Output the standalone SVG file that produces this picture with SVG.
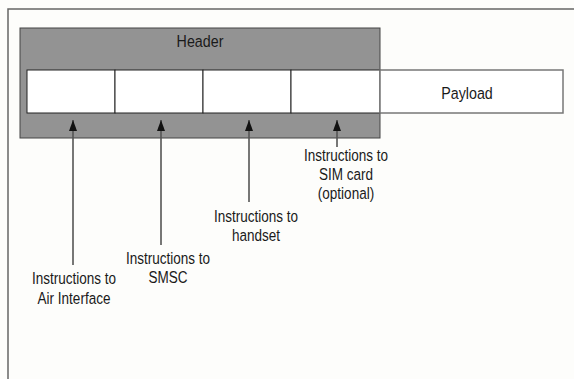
<svg xmlns="http://www.w3.org/2000/svg" width="574" height="379" viewBox="0 0 574 379">
<style>
text{font-family:"Liberation Sans",Arial,sans-serif;fill:#1a1a1a;text-anchor:middle}
.lbl{font-size:16.5px}
.big{font-size:17px}
.cell{fill:#ffffff;stroke:#222;stroke-width:1}
.conn{stroke:#555;stroke-width:1.6;fill:none}
</style>
<defs>
<marker id="ah" viewBox="0 0 11 8" refX="11" refY="4" markerWidth="11" markerHeight="8" markerUnits="userSpaceOnUse" orient="auto">
<path d="M0,0 L11,4 L0,8 Z" fill="#111"/>
</marker>
</defs>
<rect x="0" y="0" width="574" height="379" fill="#fdfdfb"/>
<g id="frame">
<path d="M8,379 V9 H574" fill="none" stroke="#666" stroke-width="1.5"/>
</g>
<g id="header">
<rect x="20" y="28" width="360" height="110" fill="#939393" stroke="#444" stroke-width="1"/>
<text class="big" transform="translate(200,47) scale(0.84,1)">Header</text>
</g>
<g id="field1"><rect class="cell" x="27" y="70" width="88" height="43"/></g>
<g id="field2"><rect class="cell" x="115" y="70" width="88" height="43"/></g>
<g id="field3"><rect class="cell" x="203" y="70" width="88" height="43"/></g>
<g id="field4"><rect class="cell" x="291" y="70" width="89" height="43"/></g>
<g id="payload">
<rect x="380" y="70" width="183" height="43" fill="#ffffff" stroke="#777" stroke-width="1.5"/>
<text class="big" transform="translate(467,99) scale(0.84,1)">Payload</text>
</g>
<g id="connectors">
<line class="conn" x1="73" y1="265" x2="73" y2="120" marker-end="url(#ah)"/>
<line class="conn" x1="161" y1="245" x2="161" y2="120" marker-end="url(#ah)"/>
<line class="conn" x1="249" y1="202" x2="249" y2="120" marker-end="url(#ah)"/>
<line class="conn" x1="337" y1="147" x2="337" y2="120" marker-end="url(#ah)"/>
</g>
<g id="label-air">
<text class="lbl" transform="translate(74,284) scale(0.82,1)">Instructions to</text>
<text class="lbl" transform="translate(74,304) scale(0.82,1)">Air Interface</text>
</g>
<g id="label-smsc">
<text class="lbl" transform="translate(168,264) scale(0.82,1)">Instructions to</text>
<text class="lbl" transform="translate(168,283) scale(0.82,1)">SMSC</text>
</g>
<g id="label-handset">
<text class="lbl" transform="translate(256,222) scale(0.82,1)">Instructions to</text>
<text class="lbl" transform="translate(256,241) scale(0.82,1)">handset</text>
</g>
<g id="label-sim">
<text class="lbl" transform="translate(346,161) scale(0.82,1)">Instructions to</text>
<text class="lbl" transform="translate(346,180) scale(0.82,1)">SIM card</text>
<text class="lbl" transform="translate(346,199) scale(0.82,1)">(optional)</text>
</g>
</svg>
